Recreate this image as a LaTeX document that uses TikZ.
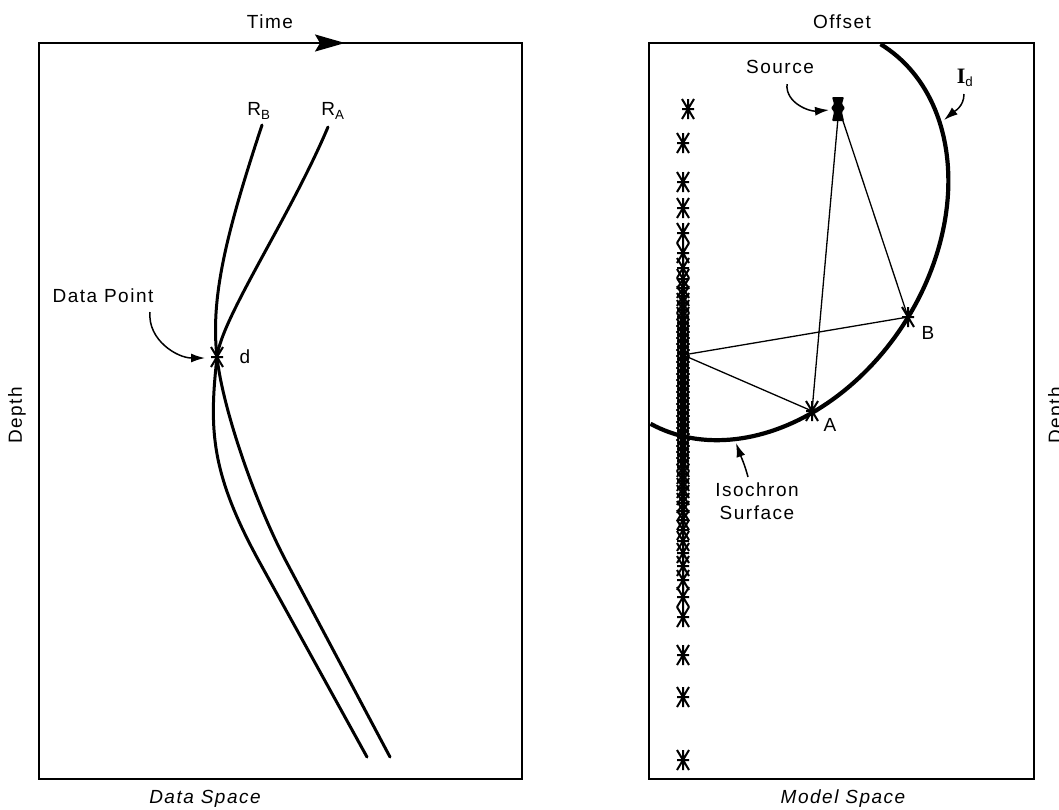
\documentclass[tikz,border=0pt]{standalone}
\usepackage{fontspec}
\setmainfont[LetterSpace=8]{Liberation Sans}
\newfontfamily\serifI{Liberation Serif}
\usetikzlibrary{arrows.meta,calc}
\tikzset{
  lab/.style={font=\fontsize{19}{23}\selectfont, inner sep=0pt},
  frame/.style={line width=1.9pt},
  curve/.style={line width=3pt, line cap=round},
  ray/.style={line width=1.3pt},
  isoarc/.style={line width=4.2pt},
  callout/.style={line width=1.5pt, -{Latex[length=14pt,width=9pt]}},
  astmark/.pic={\draw[line width=2pt] (0,-10)--(0,10) (-6,0)--(6,0) (-6,-10)--(6,10) (-6,10)--(6,-10);}
}
\begin{document}
\begin{tikzpicture}[x=1pt,y=-1pt]
\useasboundingbox (0,0) rectangle (1059,809);
\clip (0,0) rectangle (1059,809);
% ---------------- Data space ----------------
\coordinate (L1) at (39,43);
\coordinate (L2) at (522,779);
\draw[frame] (L1) rectangle (L2);
\coordinate (timetip) at (345,43);
\draw[frame, -{Stealth[length=30pt,width=17pt,inset=5pt]}] (L1) -- (timetip);
\node[lab] (time) at (270,22) {Time};
\node[lab, rotate=90] (depthL) at (17,415) {Depth};
\node[lab, font=\fontsize{19}{23}\selectfont\itshape] (dspace) at (205,799) {Data Space};
% curves
\coordinate (dpt) at (217,357);
\coordinate (RBtop) at (262,125);
\coordinate (RAtop) at (328,127);
\coordinate (RBend) at (390,757);
\coordinate (RAend) at (367,757);
\draw[curve] (RBtop) .. controls (225.7,235) and (210.4,298) .. (dpt)
  .. controls (222.5,408) and (255,503) .. (287,563) -- (RBend);
\draw[curve] (RAtop) .. controls (290,217) and (221.4,318) .. (dpt)
  .. controls (209,430) and (210.5,473) .. (260,563) -- (RAend);
\node[lab] (RB) at (259,111) {R\textsubscript{B}};
\node[lab] (RA) at (333,111) {R\textsubscript{A}};
\pic at (dpt) {astmark};
\node[lab] (dlab) at (245,357) {d};
\node[lab] (dp) at (103,296) {Data Point};
\coordinate (dpa) at (150,312);
\draw[callout] (dpa) to[out=-95,in=180] (205,358);
% ---------------- Model space ----------------
\coordinate (M1) at (649,43);
\coordinate (M2) at (1034,779);
\draw[frame] (M1) rectangle (M2);
\node[lab] (offset) at (842,22) {Offset};
\node[lab, rotate=90] (depthR) at (1057,415) {Depth};
\node[lab, font=\fontsize{19}{23}\selectfont\itshape] (mspace) at (843,799) {Model Space};
% receiver column
\pic at (688,109) {astmark};
\foreach \yy in {143,182,208,233,253,268,279,288,296,303,310,317,323,329,335,341,347,353,359,365,371,377,383,389,395,401,407,413,419,425,431,437,443,449,455,461,467,474,481,488,495,503,511,520,530,541,553,566,580,597,617,655,697,760}
  \pic at (683,\yy) {astmark};
% isochron ellipse (foci: source and receiver)
\draw[isoarc] plot[domain=-1:177, samples=100, variable=\t]
  ({763+120.0*cos(\t)+141.3*sin(\t)}, {232.5-186.8*cos(\t)+90.8*sin(\t)});
\coordinate (R) at (683,355);
\coordinate (A) at (812,411);
\coordinate (B) at (908,317);
\coordinate (src) at (838,118);
\fill[rounded corners=1pt] (832,97) -- (844,97) -- (842,104) -- (845,108) -- (842,112) -- (844,121) -- (832,121) -- (834,112) -- (831,108) -- (834,104) -- cycle;
\draw[ray] (src) -- (A);
\draw[ray] ([xshift=4pt]src) -- (B);
\draw[ray] (R) -- (B);
\draw[ray] (R) -- (A);
\pic at (A) {astmark};
\pic at (B) {astmark};
\node[lab] (Alab) at (830,425) {A};
\node[lab] (Blab) at (928,333) {B};
\node[lab] (srclab) at (780,67) {Source};
\draw[callout] (787,84) to[out=-95,in=185] (829,110);
\node[lab] (Id) at (965,78) {{\serifI\bfseries\fontsize{22}{24}\selectfont I}\textsubscript{d}};
\draw[callout] (964,94) to[out=-90,in=40] (944,120);
\node[lab, align=center] (iso) at (757,501) {Isochron\\Surface};
\draw[callout] (748,477) to[out=105,in=-70] (736,443);
\end{tikzpicture}
\end{document}
